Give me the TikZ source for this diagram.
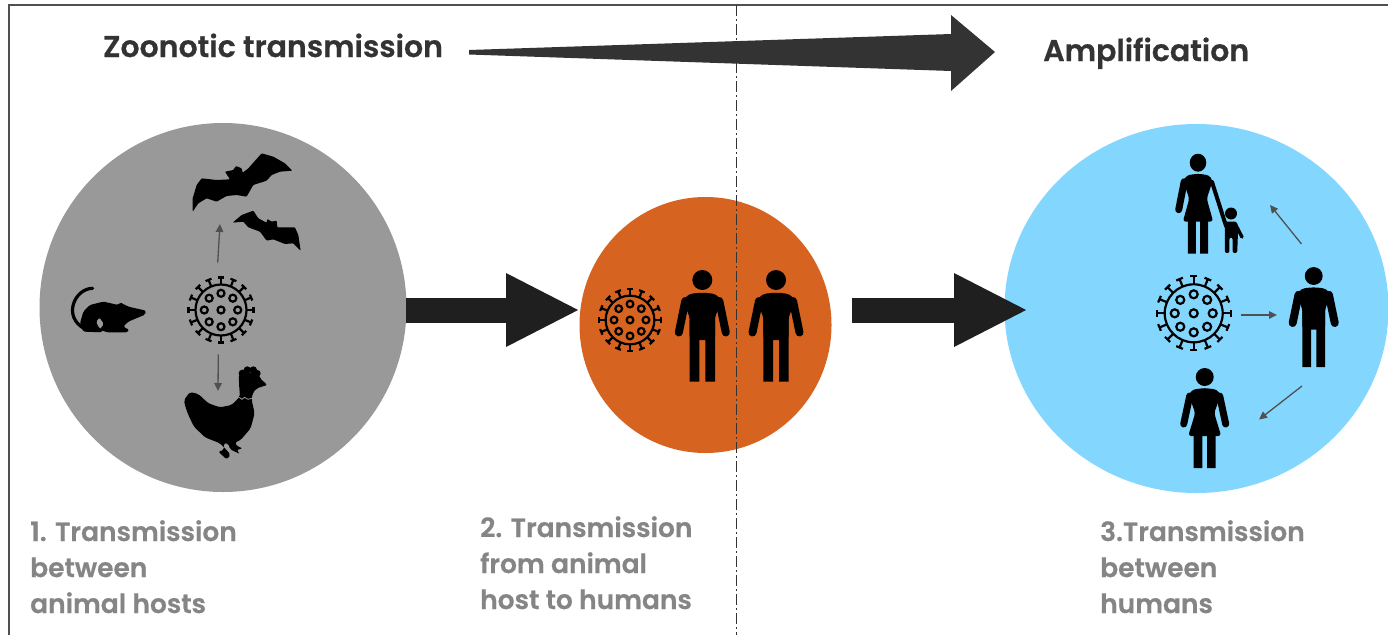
\documentclass[tikz,border=0pt]{standalone}
\usepackage{fontspec}
\setmainfont{Poppins}[BoldFont={Poppins SemiBold},BoldFeatures={FakeBold=0.5}]
\usetikzlibrary{arrows.meta,shapes.geometric}
\definecolor{graydisc}{HTML}{999999}
\definecolor{orangedisc}{HTML}{D66420}
\definecolor{bluedisc}{HTML}{83D7FF}
\definecolor{labelgray}{HTML}{858585}
\definecolor{headgray}{HTML}{333333}
\definecolor{thinarrow}{HTML}{505050}
\tikzset{
  x=1pt,y=-1pt,
  disc/.style={ellipse,inner sep=0pt,draw=none},
  heading/.style={anchor=base west,inner sep=0pt,text=headgray,font=\fontsize{30}{32}\selectfont\bfseries},
  steplabel/.style={anchor=base west,inner sep=0pt,text=labelgray,align=left,font=\fontsize{26.5}{36}\selectfont\bfseries},
  bigarrow/.style={draw=black!88,line width=25pt,-{Triangle[length=74pt,width=68pt]}},
  smallarrow/.style={draw=thinarrow,line width=1.3pt,-{Triangle[length=8pt,width=7.5pt]}},
  pics/virus/.style={code={
    \draw[black,line width=2.2pt] (0,0) circle (29);
    \foreach \a in {0,22.5,...,337.5}{
      \draw[black,line width=2.2pt,rotate=\a] (29,0)--(37,0) (37,-3.6)--(37,3.6);
    }
    \draw[black,line width=2.2pt] (0,0) circle (4);
    \foreach \a in {0,45,...,315}{
      \draw[black,line width=2.2pt,rotate=\a] (19,0) circle (4);
    }
  }},
  pics/man/.style={code={
    \fill[black] (0,0) circle (10);
    \fill[black,rounded corners=4pt] (0,12.5)--(-14,14)--(-20,22)--(-12.7,36)--(-12.7,60)--(12.7,60)--(12.7,36)--(20,22)--(14,14)--cycle;
    \fill[black] (-12.7,40) rectangle (-3,101.7) (3,40) rectangle (12.7,101.7) (-12.7,40) rectangle (12.7,56);
    \draw[black,line width=8pt,line cap=round] (-17,21)--(-23.5,52.5) (17,21)--(23.5,52.5);
  }},
  pics/womantop/.style={code={
    \fill[black] (0,0) circle (9);
    \fill[black,rounded corners=3pt] (0,11)--(-12,12.5)--(-16,18)--(-9.5,36)--(-16.5,59)--(16.5,59)--(9.5,36)--(16,18)--(12,12.5)--cycle;
    \fill[black] (-11,58) rectangle (-2.4,91) (2.4,58) rectangle (11,91);
    \draw[black,line width=7pt,line cap=round] (-15,19)--(-21,47);
  }},
  pics/woman/.style={code={
    \pic {womantop};
    \draw[black,line width=7pt,line cap=round] (15,19)--(21,47);
  }},
  pics/child/.style={code={
    \fill[black] (0,0) circle (6);
    \fill[black,rounded corners=2pt] (-6,8)--(6,8)--(7,18)--(6.2,39.5)--(1.6,39.5)--(1.6,24)--(-1.6,24)--(-1.6,39.5)--(-6.2,39.5)--(-6.2,18)--cycle;
    \draw[black,line width=3.4pt,line cap=round] (4,10)--(11,23.5);
  }},
}
\begin{document}
\begin{tikzpicture}
\useasboundingbox (0,0) rectangle (1388,635);
\fill[white] (0,0) rectangle (1388,635);
% frame
\draw[thinarrow,line width=1.6pt] (9,635)--(9,5)--(1388,5);
% discs
\node[disc,fill=graydisc,minimum width=367pt,minimum height=369pt] (gray) at (223,307.5) {};
\node[disc,fill=orangedisc,minimum width=252pt,minimum height=256pt] (orange) at (705.5,325) {};
\node[disc,fill=bluedisc,minimum width=384pt,minimum height=369pt] (blue) at (1196.5,308.5) {};
% divider
\coordinate (divtop) at (736.5,5);
\coordinate (divbottom) at (736.5,635);
\draw[black!80,line width=0.9pt,dash pattern=on 11pt off 3pt on 2pt off 3pt] (divtop)--(divbottom);
% top arrow
\fill[headgray] (469,50)--(951,34)--(951,15)--(995,52)--(951,91)--(951,71)--(469,54.5)--cycle;
% big arrows
\coordinate (gap) at (852,310);
\coordinate (grayexit) at (406,310);
\coordinate (orangeentry) at (580,310);
\coordinate (blueentry) at (1028,310);
\draw[bigarrow] (grayexit)--(orangeentry);
\draw[bigarrow] (gap)--(blueentry);
% headings
\node[heading] (zoo) at (103,57) {Zoonotic transmission};
\node[heading] (amp) at (1043,61) {Amplification};
% step labels
\node[steplabel] (s1) at (30,613) {1. Transmission\\between\\animal hosts};
\node[steplabel] (s2) at (480,609) {2. Transmission\\from animal\\host to humans};
\node[steplabel] (s3) at (1100,613) {3.Transmission\\between\\humans};
% viruses
\pic[scale=.88,transform shape] at (221,310) {virus};
\pic[scale=.84,transform shape] at (630,320) {virus};
\pic[transform shape] at (1193.7,313.3) {virus};
% people
\pic at (702.3,280) {man};
\pic at (776,280) {man};
\pic[scale=.895,transform shape] at (1313.7,276) {man};
\pic at (1204.7,377) {woman};
\pic[xscale=.92,transform shape] at (1198,162.7) {womantop};
\pic at (1231,213.5) {child};
\draw[black,line width=4pt,line cap=round] (1212,182)--(1226,226);
% animals traced in reference zoom coordinates
\begin{scope}[shift={(40,120)},x=0.3333pt,y=-0.3333pt]
  % rat
  \draw[black,line width=3.2pt,line cap=round] (158,505) .. controls (105,505) and (65,590) .. (135,627);
  \fill[black,rounded corners=1.5pt] (120,610)--(130,575)--(150,555)--(190,545)--(235,555)--(240,547)--(265,560)--(318,572)--(315,584)--(265,605)--(250,620)--(268,630)--(262,637)--(200,637)--(180,628)--(192,612)--(178,592)--(168,606)--(178,625)--(190,630)--(185,637)--(130,635)--cycle;
  % big bat
  \fill[black,rounded corners=.8pt] (458,275)--(458,235)--(470,195)--(485,175)--(530,180)--(570,178)--(555,155)--(580,150)--(588,138)--(605,145)--(608,158)--(625,145)--(665,100)--(700,110)--(735,130)--(757,152)--(720,155)--(695,165)--(680,182)--(640,195)--(620,230)--(590,225)--(560,228)--(530,245)--(500,235)--(475,250)--cycle;
  % small bat
  \fill[black,rounded corners=.8pt] (578,308)--(605,285)--(640,272)--(655,295)--(680,308)--(682,297)--(695,305)--(710,302)--(712,322)--(765,322)--(775,345)--(782,392)--(760,370)--(735,372)--(700,358)--(680,362)--(660,335)--(625,322)--(610,305)--cycle;
  % chicken
  \fill[black,rounded corners=2pt] (432,840)--(450,816)--(475,822)--(505,850)--(540,862)--(575,855)--(600,830)--(597,790)--(597,762)--(655,755)--(660,775)--(682,795)--(650,805)--(638,820)--(635,840)--(644,880)--(632,925)--(602,960)--(585,968)--(590,978)--(608,985)--(590,990)--(600,1002)--(570,988)--(565,970)--(552,970)--(552,990)--(535,995)--(560,1018)--(572,1005)--(558,988)--(540,970)--(495,952)--(462,920)--(445,885)--(436,860)--cycle;
  \fill[black] (607,760) circle (11) (622,750) circle (11) (640,750) circle (11) (652,760) circle (10);
  \draw[graydisc,line width=.8pt] (598,832)--(606,838)--(614,832)--(624,838)--(640,834);
\end{scope}
% thin arrows
\coordinate (a1s) at (217.7,262.7); \coordinate (a1e) at (220,224);
\coordinate (a2s) at (218.3,354.3); \coordinate (a2e) at (218,391);
\coordinate (a3s) at (1241,315); \coordinate (a3e) at (1277,315);
\coordinate (a4s) at (1301.5,244); \coordinate (a4e) at (1270,205);
\coordinate (a5s) at (1302,386); \coordinate (a5e) at (1259,419.5);
\foreach \s/\e in {a1s/a1e,a2s/a2e,a3s/a3e,a4s/a4e,a5s/a5e}
  \draw[smallarrow] (\s)--(\e);
\end{tikzpicture}
\end{document}
